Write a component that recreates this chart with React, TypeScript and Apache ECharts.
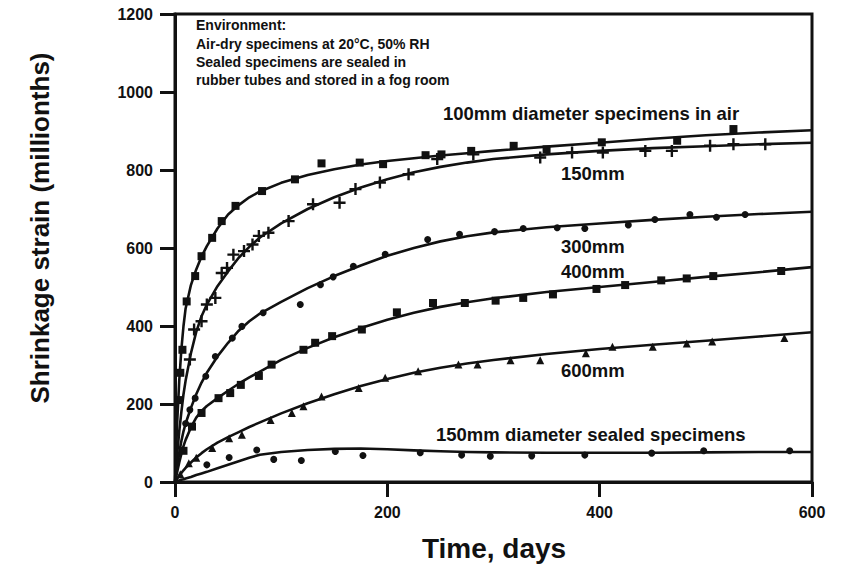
import React, { useEffect, useRef } from "react";
import * as echarts from "echarts";

// Fitted curve times (days)
const fitT = [0, 2, 4, 6, 8, 10, 15, 20, 25, 30, 40, 50, 60, 70, 80, 100, 125, 150, 175, 200, 225, 250, 275, 300, 350, 400, 450, 500, 550, 600];
const fit100 = [0, 150, 260, 340, 400, 445, 505, 545, 578, 605, 650, 686, 710, 730, 745, 767, 787, 802, 814, 823, 830, 837, 843, 849, 860, 870, 880, 889, 896, 902];
const fit150 = [0, 70, 130, 180, 225, 260, 330, 385, 425, 455, 502, 540, 575, 603, 627, 663, 700, 730, 755, 776, 794, 808, 819, 828, 840, 849, 856, 861, 866, 870];
const fit300 = [0, 40, 75, 105, 130, 150, 190, 225, 255, 280, 322, 357, 388, 412, 432, 462, 497, 528, 555, 580, 600, 617, 630, 640, 653, 663, 672, 680, 687, 693];
const fit400 = [0, 25, 50, 72, 92, 108, 140, 165, 182, 195, 215, 234, 252, 268, 283, 313, 344, 371, 395, 416, 434, 449, 461, 471, 487, 500, 513, 526, 538, 551];
const fit600 = [0, 8, 16, 23, 30, 36, 50, 63, 74, 84, 101, 115, 128, 141, 153, 176, 202, 225, 246, 264, 280, 293, 304, 313, 328, 341, 352, 362, 373, 384];
const fitSealed = [0, 2, 4, 6, 7, 9, 13, 18, 22, 26, 35, 44, 53, 62, 70, 77, 82, 85, 86, 84, 81, 79, 77, 76, 75, 75, 75, 76, 77, 77];

// Measured points
const sq100T = [3, 5, 7, 11, 19, 25, 35, 44, 57, 82, 113, 138, 174, 196, 236, 251, 279, 319, 350, 402, 473, 526];
const sq100V = [210, 280, 339, 463, 528, 579, 626, 669, 708, 746, 776, 817, 819, 815, 838, 840, 849, 862, 853, 871, 875, 905];

const plus150T = [14, 18, 25, 30, 38, 44, 49, 55, 65, 73, 79, 88, 107, 130, 155, 170, 193, 220, 247, 281, 344, 374, 403, 443, 468, 504, 526, 556];
const plus150V = [314, 391, 412, 455, 472, 536, 549, 583, 592, 609, 631, 639, 669, 712, 716, 751, 768, 789, 828, 840, 832, 845, 845, 849, 849, 862, 866, 866];

const circ300T = [10, 14, 19, 29, 38, 54, 63, 83, 118, 137, 149, 168, 198, 238, 268, 301, 328, 360, 386, 427, 452, 485, 510, 537];
const circ300V = [150, 185, 215, 271, 322, 369, 399, 434, 455, 506, 526, 553, 584, 622, 635, 642, 650, 652, 650, 659, 673, 686, 679, 686];

const sq400T = [8, 16, 25, 41, 52, 62, 79, 91, 121, 132, 148, 176, 209, 243, 273, 302, 328, 356, 397, 424, 458, 482, 507, 571];
const sq400V = [80, 142, 177, 215, 228, 249, 272, 301, 339, 357, 374, 391, 435, 459, 459, 465, 472, 481, 495, 505, 517, 522, 528, 541];

const tri600T = [5, 13, 20, 35, 51, 63, 90, 110, 121, 138, 173, 198, 229, 267, 285, 316, 344, 387, 412, 450, 482, 506, 574];
const tri600V = [20, 48, 62, 87, 112, 121, 159, 177, 194, 219, 241, 267, 284, 301, 301, 312, 312, 330, 347, 347, 355, 360, 369];

const sealedT = [30, 51, 77, 93, 119, 151, 177, 231, 270, 297, 336, 386, 449, 498, 579];
const sealedV = [44, 63, 82, 58, 55, 78, 68, 75, 69, 66, 67, 69, 74, 80, 80];

const xTicks = [0, 200, 400, 600];
const yTicks = [0, 200, 400, 600, 800, 1000, 1200];

const FONT = '"Liberation Sans", Arial, Helvetica, sans-serif';
const INK = "#111";
const PLUS = "path://M4,0h2v4h4v2h-4v4h-2v-4h-4v-2h4z";

const zip = (a: number[], b: number[]) => a.map((t, i) => [t, b[i]]);

export default function App() {
  const ref = useRef<HTMLDivElement>(null);
  useEffect(() => {
    document.body.style.margin = "0";
    if (!ref.current) return;
    const chart = echarts.init(ref.current, null, { renderer: "svg" });
    const lineSeries = (data: number[]) => ({
      type: "line",
      data: zip(fitT, data),
      showSymbol: false,
      symbol: "none",
      smooth: false,
      lineStyle: { color: INK, width: 2.6, join: "round" },
      z: 3,
    });
    const scat = (t: number[], v: number[], symbol: string, size: number) => ({
      type: "scatter",
      data: zip(t, v),
      symbol,
      symbolSize: size,
      itemStyle: { color: INK, opacity: 1 },
      z: 4,
    });
    const txt = (text: string, x: number, y: number, size: number, extra: any = {}) => ({
      type: "text",
      x,
      y,
      z: 10,
      style: {
        text,
        fill: INK,
        font: `bold ${size}px ${FONT}`,
        align: "left",
        verticalAlign: "middle",
        ...extra,
      },
    });
    const axisLabel = (vals: number[]) => ({
      margin: 22,
      color: INK,
      fontSize: 16,
      fontWeight: "bold",
      fontFamily: FONT,
      customValues: vals,
      formatter: (v: number) => String(v),
    });
    chart.setOption({
      animation: false,
      backgroundColor: "#fff",
      grid: {
        left: 175,
        right: 31,
        top: 14,
        bottom: 89,
        show: true,
        borderColor: INK,
        borderWidth: 3,
        backgroundColor: "transparent",
      },
      xAxis: {
        type: "value",
        min: 0,
        max: 600,
        interval: 200,
        axisLine: { show: true, lineStyle: { color: INK, width: 3 } },
        axisTick: { show: true, length: 15, lineStyle: { color: INK, width: 3 } },
        axisLabel: axisLabel(xTicks),
        splitLine: { show: false },
      },
      yAxis: {
        type: "value",
        min: 0,
        max: 1200,
        interval: 200,
        axisLine: { show: true, lineStyle: { color: INK, width: 3 } },
        axisTick: { show: true, length: 15, lineStyle: { color: INK, width: 3 } },
        axisLabel: axisLabel(yTicks),
        splitLine: { show: false },
      },
      graphic: [
        txt("Environment:", 196, 25, 14),
        txt("Air-dry specimens at 20°C, 50% RH", 196, 44, 14),
        txt("Sealed specimens are sealed in", 196, 62, 14),
        txt("rubber tubes and stored in a fog room", 196, 80, 14),
        txt("100mm diameter specimens in air", 443, 113, 18.5),
        txt("150mm", 561, 173, 18.5),
        txt("300mm", 561, 246, 18.5),
        txt("400mm", 561, 271, 18.5),
        txt("600mm", 561, 370, 18.5),
        txt("150mm diameter sealed specimens", 436, 434, 18.5),
        txt("Time, days", 494, 548, 28, { align: "center" }),
        {
          type: "text",
          x: 40,
          y: 228,
          rotation: Math.PI / 2,
          z: 10,
          style: {
            text: "Shrinkage strain (millionths)",
            fill: INK,
            font: `bold 26px ${FONT}`,
            align: "center",
            verticalAlign: "middle",
          },
        },
      ],
      series: [
        lineSeries(fit100),
        lineSeries(fit150),
        lineSeries(fit300),
        lineSeries(fit400),
        lineSeries(fit600),
        lineSeries(fitSealed),
        scat(sq100T, sq100V, "rect", 8),
        scat(plus150T, plus150V, PLUS, 12),
        scat(circ300T, circ300V, "circle", 7),
        scat(sq400T, sq400V, "rect", 8),
        scat(tri600T, tri600V, "triangle", 8),
        scat(sealedT, sealedV, "circle", 7),
      ],
    });
    return () => chart.dispose();
  }, []);
  return <div ref={ref} style={{ width: 843, height: 571 }} />;
}
